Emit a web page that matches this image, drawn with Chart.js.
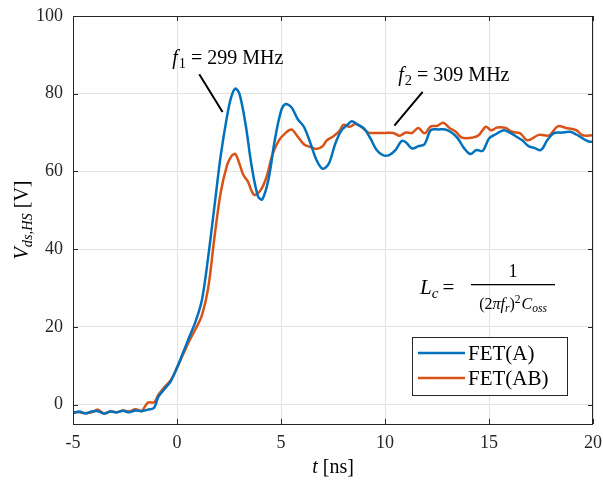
<!DOCTYPE html>
<html>
<head>
<meta charset="utf-8">
<script src="https://cdn.jsdelivr.net/npm/chart.js@4"></script>
<style>
  html,body{margin:0;padding:0;background:#fff;}
  #wrap{width:603px;height:483px;}
</style>
</head>
<body>
<div id="wrap"><canvas id="c" width="603" height="483"></canvas></div>
<script>
// data
const tA = [-5,-4.7,-4.4,-4.1,-3.8,-3.5,-3.2,-2.9,-2.6,-2.3,-2.0,-1.7,-1.4,-1.1,-0.9,-0.6,-0.3,0,0.3,0.6,0.9,1.2,1.5,1.8,2.1,2.4,2.6,2.8,3.0,3.3,3.6,3.9,4.1,4.4,4.7,5.0,5.2,5.5,5.8,6.1,6.4,6.7,7.0,7.3,7.6,7.9,8.2,8.4,8.7,9.0,9.3,9.6,9.9,10.2,10.5,10.8,11.0,11.3,11.6,11.9,12.2,12.6,12.9,13.2,13.5,13.8,14.1,14.4,14.7,15.0,15.3,15.7,16.0,16.3,16.6,16.9,17.2,17.5,17.8,18.1,18.5,18.9,19.2,19.5,19.8,20];
const vA = [-2.2,-1.8,-2.3,-1.8,-1.7,-2.3,-1.8,-2.0,-1.6,-2.0,-1.5,-1.7,-1.3,-0.8,2.0,4.0,6.0,9.5,13.5,17.5,21.5,27,38,51,64,74,79,81.3,80,72,61,53.5,52.8,58,68,75.5,77.3,76.5,73.5,71.5,67.5,63,60.7,62,67,70.5,72,72.9,72,71,68.5,65.5,64.2,64.2,65.5,67.8,67.5,65.9,66.5,67,70.6,70.8,70.8,70,68.5,66,64.5,65.5,65.3,68.5,69.5,70.6,70,69,68,66.5,66,65.5,68,69.8,70,70.2,69.5,68.5,67.7,67.6];

const tB = [-5,-4.7,-4.4,-4.1,-3.8,-3.5,-3.2,-2.9,-2.6,-2.3,-2.0,-1.7,-1.4,-1.1,-0.9,-0.6,-0.3,0,0.3,0.6,0.9,1.2,1.5,1.8,2.1,2.4,2.6,2.8,3.0,3.2,3.4,3.7,4.0,4.3,4.6,4.9,5.2,5.5,5.8,6.1,6.4,6.7,7.0,7.2,7.5,7.8,8.0,8.3,8.6,8.9,9.2,9.6,10.0,10.4,10.7,11.0,11.3,11.6,11.9,12.2,12.5,12.8,13.1,13.4,13.7,14.2,14.5,14.85,15.1,15.4,15.8,16.1,16.5,16.85,17.4,17.9,18.3,18.7,19.2,19.5,20];
const vB = [-2.0,-2.0,-2.2,-2.0,-1.3,-2.3,-1.7,-2.0,-1.5,-1.8,-1.2,-1.6,0.5,0.6,2.5,4.5,6.3,9.5,13.0,16.5,19.5,23,30,43,54.5,61.5,63.8,64.5,62,59,57.5,54,55,58.5,64.5,68,69.8,70.8,69,67,66.3,65.8,66.5,68,69,70.3,72,71.5,72.3,71.3,70,69.9,69.9,69.9,69.2,70,69.9,71.2,69.8,71.6,71.7,72.5,71.2,70.2,68.7,68.7,69.3,71.5,70.6,71.3,71.2,70.2,69.8,68,69.4,69.3,71.6,71.2,70.6,69.3,69.3];

const seriesNames = ['FET(A)', 'FET(AB)'];
const seriesColors = ['#0072BD', '#D95319'];
const xTicks = [-5, 0, 5, 10, 15, 20];
const yTicks = [0, 20, 40, 60, 80, 100];

const SERIF = '"Liberation Serif", "DejaVu Serif", serif';
const INK = '#262626';

// draw a run of text pieces: {s, it, sc, dy}
function rich(ctx, x, y, parts, size){
  let cx = x;
  parts.forEach(p=>{
    const sz = size*(p.sc||1);
    ctx.font = (p.it?'italic ':'') + sz + 'px ' + SERIF;
    ctx.fillText(p.s, cx, y + (p.dy||0));
    cx += ctx.measureText(p.s).width + (p.gap||0);
  });
  return cx - x;
}
function richWidth(ctx, parts, size){
  let w = 0;
  parts.forEach(p=>{
    ctx.font = (p.it?'italic ':'') + size*(p.sc||1) + 'px ' + SERIF;
    w += ctx.measureText(p.s).width + (p.gap||0);
  });
  return w;
}

const extras = {
  id: 'extras',
  afterDatasetsDraw(chart){
    const {ctx, chartArea: a, scales:{x, y}} = chart;
    ctx.save();
    // box + inward ticks
    ctx.strokeStyle = INK; ctx.lineWidth = 1;
    ctx.strokeRect(a.left+0.5, a.top+0.5, a.right-a.left-1, a.bottom-a.top);
    ctx.beginPath();
    xTicks.forEach(v=>{
      const px = Math.round(x.getPixelForValue(v))+0.5;
      ctx.moveTo(px, a.bottom); ctx.lineTo(px, a.bottom-5);
      ctx.moveTo(px, a.top); ctx.lineTo(px, a.top+5);
    });
    yTicks.forEach(v=>{
      const py = Math.round(y.getPixelForValue(v))+0.5;
      ctx.moveTo(a.left, py); ctx.lineTo(a.left+5, py);
      ctx.moveTo(a.right, py); ctx.lineTo(a.right-5, py);
    });
    ctx.stroke();

    // annotation leader lines
    ctx.strokeStyle = '#000'; ctx.lineWidth = 2;
    ctx.beginPath();
    ctx.moveTo(x.getPixelForValue(1.07), y.getPixelForValue(85));
    ctx.lineTo(x.getPixelForValue(2.19), y.getPixelForValue(75.3));
    ctx.moveTo(x.getPixelForValue(11.81), y.getPixelForValue(80.5));
    ctx.lineTo(x.getPixelForValue(10.45), y.getPixelForValue(71.8));
    ctx.stroke();

    ctx.fillStyle = '#000';
    ctx.textBaseline = 'alphabetic'; ctx.textAlign = 'left';
    rich(ctx, x.getPixelForValue(-0.23), y.getPixelForValue(87.6), [
      {s:'f', it:true, gap:1}, {s:'1', sc:0.72, dy:4, gap:5}, {s:'= 299 MHz'}
    ], 20);
    rich(ctx, x.getPixelForValue(10.64), y.getPixelForValue(83.2), [
      {s:'f', it:true, gap:1}, {s:'2', sc:0.72, dy:4, gap:5}, {s:'= 309 MHz'}
    ], 20);

    // L_c formula
    const fx = 420, fy = 294;
    rich(ctx, fx, fy, [{s:'L', it:true}, {s:'c', it:true, sc:0.72, dy:4, gap:4}, {s:'='}], 21);
    ctx.fillRect(471, 284, 84, 1.3);
    ctx.font = '18px ' + SERIF; ctx.textAlign = 'center';
    ctx.fillText('1', 513, 277);
    ctx.textAlign = 'left';
    const den = [
      {s:'(2', sc:1}, {s:'π', it:true}, {s:'f', it:true}, {s:'r', it:true, sc:0.72, dy:3}, {s:')'},
      {s:'2', sc:0.72, dy:-6, gap:1}, {s:'C', it:true}, {s:'oss', it:true, sc:0.72, dy:3}
    ];
    const dw = richWidth(ctx, den, 16);
    rich(ctx, 513 - dw/2, 309, den, 16);

    // legend
    const lx = 412.5, ly = 337.5, lw = 155, lh = 58;
    ctx.fillStyle = '#fff'; ctx.fillRect(lx, ly, lw, lh);
    ctx.strokeStyle = INK; ctx.lineWidth = 1; ctx.strokeRect(lx, ly, lw, lh);
    chart.data.datasets.forEach((ds, i)=>{
      const yy = 353 + i*25;
      ctx.strokeStyle = ds.borderColor; ctx.lineWidth = 2.5;
      ctx.beginPath(); ctx.moveTo(418, yy); ctx.lineTo(465, yy); ctx.stroke();
      ctx.fillStyle = '#000'; ctx.font = '21px ' + SERIF;
      ctx.textBaseline = 'middle';
      ctx.fillText(ds.label, 468, yy + 1);
    });
    ctx.textBaseline = 'alphabetic';

    // axis titles
    ctx.fillStyle = '#000';
    const xt = [{s:'t', it:true, gap:5}, {s:'[ns]'}];
    const xw = richWidth(ctx, xt, 20);
    rich(ctx, (a.left+a.right)/2 - xw/2, 473, xt, 20);

    const yt = [{s:'V', it:true}, {s:'ds,HS', it:true, sc:0.72, dy:4, gap:5}, {s:'[V]'}];
    const yw = richWidth(ctx, yt, 20);
    ctx.translate(28, (a.top+a.bottom)/2);
    ctx.rotate(-Math.PI/2);
    rich(ctx, -yw/2, 0, yt, 20);
    ctx.restore();
  }
};

new Chart(document.getElementById('c'), {
  type: 'line',
  data: {
    datasets: [
      { label: seriesNames[0], data: tA.map((t,i)=>({x:t, y:vA[i]})), borderColor: seriesColors[0], backgroundColor: seriesColors[0], borderWidth: 2.5, pointRadius: 0, tension: 0.35, fill: false },
      { label: seriesNames[1], data: tB.map((t,i)=>({x:t, y:vB[i]})), borderColor: seriesColors[1], backgroundColor: seriesColors[1], borderWidth: 2.5, pointRadius: 0, tension: 0.35, fill: false }
    ]
  },
  options: {
    responsive: false,
    animation: false,
    events: [],
    layout: { padding: { top: 16, right: 10, left: 0, bottom: 0 } },
    plugins: { legend: { display: false }, tooltip: { enabled: false } },
    scales: {
      x: {
        type: 'linear', min: -5, max: 20,
        afterBuildTicks: s => { s.ticks = xTicks.map(v=>({value:v})); },
        afterFit: s => { s.height = 59; s.paddingLeft = 0; s.paddingRight = 0; },
        ticks: { color: INK, padding: 8, font: { family: SERIF, size: 18 }, callback: v => String(v) },
        grid: { color: '#e3e3e3', drawTicks: false },
        border: { display: false }
      },
      y: {
        min: -5, max: 100,
        afterBuildTicks: s => { s.ticks = yTicks.map(v=>({value:v})); },
        afterFit: s => { s.width = 73; s.paddingTop = 0; s.paddingBottom = 0; },
        ticks: { color: INK, padding: 10, font: { family: SERIF, size: 18 } },
        grid: { color: '#e3e3e3', drawTicks: false },
        border: { display: false }
      }
    }
  },
  plugins: [extras]
});
</script>
</body>
</html>
